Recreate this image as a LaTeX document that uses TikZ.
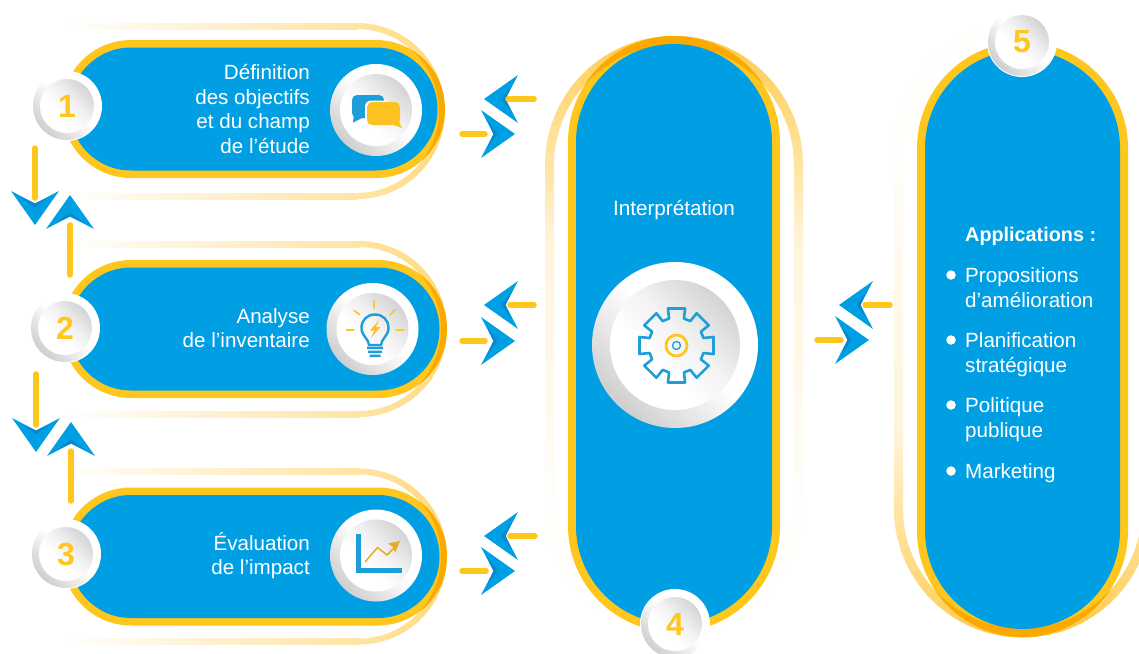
\documentclass[tikz,border=0pt]{standalone}
\usepackage{fontspec}
\usetikzlibrary{calc}
\setmainfont{Liberation Sans}
\definecolor{ybase}{HTML}{FFC61E}
\definecolor{ypale}{HTML}{FFC332}
\definecolor{yover}{HTML}{F9A900}
\definecolor{bmain}{HTML}{009FE3}
\definecolor{bdark}{HTML}{0A87CA}
\definecolor{ricon}{HTML}{1E9ED8}
\definecolor{goldc}{HTML}{E2AC2B}
\pgfdeclareverticalshading{ringshade}{100bp}{color(0bp)=(white!70!black); color(15bp)=(white!74!black); color(35bp)=(white!88!black); color(52bp)=(white); color(100bp)=(white)}
\pgfdeclareverticalshading{discshade}{100bp}{color(0bp)=(white); color(40bp)=(white); color(55bp)=(white!95!black); color(70bp)=(white!86!black); color(85bp)=(white!77!black); color(100bp)=(white!75!black)}
\tikzset{
  bodytext/.style={text=white,inner sep=0pt,font=\fontsize{20.6}{24.4}\selectfont},
  pillbody/.style={fill=bmain,inner sep=0pt},
  ringout/.style={circle,inner sep=0pt,shading=ringshade,shading angle=-45},
  ringin/.style={circle,inner sep=0pt,shading=discshade,shading angle=-45,text=ybase,font=\fontsize{32}{32}\selectfont\bfseries},
  halo/.style={circle,fill=white,inner sep=0pt},
  link/.style={draw=ybase,line width=5.5pt,line cap=round},
  lbullet/.style={circle,fill=white,inner sep=0pt,minimum size=9.5pt},
  listtext/.style={bodytext,anchor=base west},
  iconline/.style={draw=ricon,line width=2.6pt,line join=round,line cap=round},
  rayline/.style={draw=ybase,line width=1.6pt,line cap=round},
}
% chevron: tip at the coordinate, pointing along the rotation
\newcommand{\chevhead}[3]{%
  \begin{scope}[shift={(#1,#2)},rotate=#3]
    \fill[bmain] (0,0) -- (-34,-24) -- (-21.5,0) -- (-34,24) -- cycle;
    \fill[bdark] (-21.5,0) -- (-28,-14) -- (-17.5,0) -- (-28,14) -- cycle;
  \end{scope}}
% a horizontal pill with its fading outer loop
\newcommand{\hpill}[5]{% name, cy, right outer, arc x, loop cy
  \shade[left color=white,right color=ypale!45!white] (60,#5-88) rectangle (#4+.5,#5-82);
  \shade[left color=white,right color=ypale!45!white] (60,#5+82) rectangle (#4+.5,#5+88);
  \foreach \a in {90,84,...,-84}{
    \pgfmathsetmacro{\pv}{45+25*(1-abs(\a)/90)}
    \draw[draw=ypale!\pv!white,line width=6pt] (#4,#5)++(\a:85) arc[start angle=\a,end angle=\a-7,radius=85];
  }
  \fill[ybase,rounded corners=69pt] (62,#2-69) rectangle (#3,#2+69);
  \begin{scope}
    \clip[rounded corners=69pt] (62,#2-69) rectangle (#3,#2+69);
    \draw[draw=yover,line width=6pt] (#4,#5-85) arc[start angle=-90,end angle=90,radius=85];
  \end{scope}
  \node[pillbody,rounded corners=61.5pt,minimum width=#3-62-15,minimum height=123] (#1) at ({(62+#3)/2},#2) {};
}
% a vertical pill's outer outline and body
\newcommand{\vpillbody}[6]{% name, left, right, top, bottom, overlap path
  \fill[ybase,rounded corners=106pt] (#2,#4) rectangle (#3,#5);
  \begin{scope}
    \clip[rounded corners=106pt] (#2,#4) rectangle (#3,#5);
    \draw[draw=yover,line width=9pt] #6;
  \end{scope}
  \node[pillbody,rounded corners=98pt,minimum width=#3-#2-16,minimum height=#5-#4-16] (#1) at ({(#2+#3)/2},{(#4+#5)/2}) {};
}
\begin{document}
\begin{tikzpicture}[x=1pt,y=-1pt]
\useasboundingbox (0,0) rectangle (1139,653);
\clip (0,0) rectangle (1139,653);
\fill[white] (0,0) rectangle (1139,653);

% --- pale loop of pill 4
\foreach \a in {180,186,...,354}{
  \pgfmathsetmacro{\pv}{45+55*(1-abs(\a-270)/90)}
  \draw[draw=ypale!\pv!white,line width=9pt] (674,165)++(\a:124.5) arc[start angle=\a,end angle=\a+7,radius=124.5];
}
\foreach \xx in {549.5,798.5}{
  \shade[top color=ypale!45!white,bottom color=ypale!18!white] (\xx-4.5,164.5) rectangle (\xx+4.5,240);
  \shade[top color=ypale!18!white,bottom color=ypale!2!white] (\xx-4.5,239.5) rectangle (\xx+4.5,505);
}
\draw[draw=ypale!2!white,line width=9pt] (549.5,505) arc[start angle=180,end angle=0,radius=124.5];

% --- pale loop of pill 5
\foreach \a in {180,174,...,6}{
  \pgfmathsetmacro{\pv}{45+55*(1-abs(\a-90)/90)}
  \draw[draw=ypale!\pv!white,line width=9pt] (1022.5,509)++(\a:124) arc[start angle=\a,end angle=\a-7,radius=124];
}
\foreach \xx in {898.5,1146.5}{
  \shade[bottom color=ypale!45!white,top color=ypale!18!white] (\xx-4.5,434) rectangle (\xx+4.5,509.5);
  \shade[bottom color=ypale!18!white,top color=ypale!2!white] (\xx-4.5,150) rectangle (\xx+4.5,434.5);
}
\draw[draw=ypale!2!white,line width=9pt] (898.5,150) arc[start angle=180,end angle=270,radius=124];

% --- pills
\hpill{pa}{109}{445}{357}{111}
\hpill{pb}{329}{447}{359}{329}
\hpill{pc}{556.5}{447}{359}{556.5}
\vpillbody{pd}{568}{780}{36}{632}{(549.5,165) arc[start angle=180,end angle=360,radius=124.5]}
\vpillbody{pe}{917}{1128}{42}{637}{(898.5,509) arc[start angle=180,end angle=0,radius=124]}

% --- texts
\node[bodytext,align=right,anchor=east] (ta) at (310,109) {Définition\\des objectifs\\et du champ\\de l’étude};
\node[bodytext,align=right,anchor=east] (tb) at (310,328) {Analyse\\de l’inventaire};
\node[bodytext,align=right,anchor=east] (tc) at (310,555.5) {Évaluation\\de l’impact};
\node[bodytext,font=\fontsize{20.7}{24}\selectfont] (td) at (674,210) {Interprétation};
\node[listtext,font=\fontsize{19.8}{24}\selectfont\bfseries] (te) at (965,241) {Applications :};
\node[listtext] (l1a) at (965,282) {Propositions};
\node[listtext] (l1b) at (965,307) {d’amélioration};
\node[listtext] (l2a) at (965,347) {Planification};
\node[listtext] (l2b) at (965,372) {stratégique};
\node[listtext] (l3a) at (965,412) {Politique};
\node[listtext] (l3b) at (965,437) {publique};
\node[listtext] (l4) at (965,478) {Marketing};
\node[lbullet] (b1) at (951,275) {};
\node[lbullet] (b2) at (951,340) {};
\node[lbullet] (b3) at (951,405) {};
\node[lbullet] (b4) at (951,471) {};

% --- number badges
\foreach \nm/\cx/\cy/\tx in {na/67/106/1,nb/65/328/2,nc/66/554/3,nd/675/624/4,ne/1022/42/5}{
  \node[halo,minimum size=70pt] at (\cx,\cy) {};
  \node[ringout,minimum size=68pt] (\nm) at (\cx,\cy) {};
  \node[ringin,minimum size=54pt] (\nm i) at (\nm) {\tx};
}

% --- icon discs
\foreach \nm/\cx/\cy in {ia/376/110,ib/372.5/329,ic/376/555.5}{
  \node[ringout,minimum size=92pt] (\nm) at (\cx,\cy) {};
  \node[ringin,minimum size=72pt] (\nm i) at (\nm) {};
}
\node[ringout,minimum size=166pt] (ig) at (675,345) {};
\node[ringin,minimum size=130pt] (igi) at (ig) {};

% chat icon
\fill[ricon,rounded corners=5pt] (352,95) rectangle (384,118);
\fill[ricon] (354,114) -- (353,122.5) -- (364,117) -- cycle;
\begin{scope}
  \clip (350,93) rectangle (386,120);
  \fill[white,rounded corners=6pt] (365,100.5) rectangle (401.5,126.5);
\end{scope}
\fill[ybase!85!goldc,rounded corners=5pt] (367,102) rectangle (400,125);
\fill[ybase!85!goldc] (391,124) -- (402,128) -- (397,118) -- cycle;

% bulb icon
\draw[iconline,line width=2.4pt] (369,345) .. controls (369,339) and (361.5,336) .. (361.5,328) .. controls (361.5,320) and (367,314.5) .. (375,314.5) .. controls (383,314.5) and (388.5,320) .. (388.5,328) .. controls (388.5,336) and (381,339) .. (381,345) -- cycle;
\fill[ricon] (367,346.5) rectangle (383,349) (368,350.5) rectangle (382,353) (369.5,354.5) rectangle (380.5,357);
\fill[ybase!85!goldc] (379,320) -- (370,330.5) -- (374.5,330.5) -- (371,338) -- (380.5,327) -- (376,327) -- cycle;
\draw[rayline] (374,301) -- (374,308) (354,310.5) -- (359.5,314.5) (395.5,309.5) -- (390,315) (346.5,330) -- (354,330) (396,330) -- (403.5,330);

% gear icon
\def\gA{13}\def\gB{15.5}
\coordinate (gc) at (676.5,345.5);
\draw[iconline] ($(gc)+(-\gB:28)$)
  \foreach \t in {0,45,...,315}{
    -- ($(gc)+(\t-\gB:28)$) -- ($(gc)+(\t-\gA:38)$) -- ($(gc)+(\t+\gA:38)$) -- ($(gc)+(\t+\gB:28)$)
  } -- cycle;
\draw[draw=ybase,line width=2.8pt] (gc) circle[radius=10.5];
\draw[draw=ricon,line width=1.3pt] (gc) circle[radius=4];

% chart icon
\draw[draw=ricon,line width=5pt,line join=miter] (358,534) -- (358,570.5) -- (402,570.5);
\draw[draw=goldc,line width=1.5pt,line join=round] (365,562) -- (377.5,547.5) -- (387,555) -- (396,546);
\fill[goldc] (400,541) -- (388,543.5) -- (393,547) -- (395,553) -- cycle;

% --- connectors
\chevhead{515}{134}{0}
\chevhead{484}{99}{180}
\chevhead{515}{341}{0}
\chevhead{484}{305}{180}
\chevhead{515}{571}{0}
\chevhead{484}{536}{180}
\chevhead{869}{340}{0}
\chevhead{839}{305}{180}
\chevhead{35}{225}{-90}
\chevhead{70}{195}{90}
\chevhead{36}{452}{-90}
\chevhead{71}{422}{90}
\foreach \nm/\ax/\ay/\bx/\by in {
  ra/462/134/485/134, la/534/99/508/99,
  rb/462/341/485/341, lb/534/305/510/305,
  rc/462/571/486/571, lc/535/536/510/536,
  rd/817/340/841/340, ld/890/305/865/305,
  da/35/148/35/198, ua/70/275/70/225,
  db/36/374/36/425, ub/71/501/71/451}{
  \coordinate (\nm s) at (\ax,\ay);
  \coordinate (\nm e) at (\bx,\by);
  \draw[link] (\nm s) -- (\nm e);
}
\end{tikzpicture}
\end{document}
